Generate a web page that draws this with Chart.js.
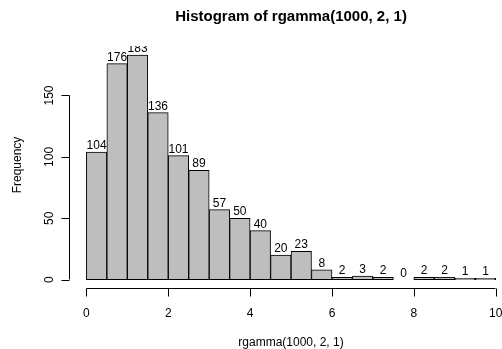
<!DOCTYPE html>
<html>
<head>
<meta charset="utf-8">
<script src="https://cdn.jsdelivr.net/npm/chart.js@4/dist/chart.umd.min.js"></script>
<style>
  html, body { margin: 0; padding: 0; background: #fff; overflow: hidden; }
  #wrap { width: 502px; height: 349px; }
</style>
</head>
<body>
<div id="wrap"><canvas id="hist" width="502" height="349"></canvas></div>
<script>
// histogram bins (width 0.5) and counts
const binStarts = [0, 0.5, 1, 1.5, 2, 2.5, 3, 3.5, 4, 4.5, 5, 5.5, 6, 6.5, 7, 7.5, 8, 8.5, 9, 9.5]
const counts = [104, 176, 183, 136, 101, 89, 57, 50, 40, 20, 23, 8, 2, 3, 2, 0, 2, 2, 1, 1]
const xTicks = [0, 2, 4, 6, 8, 10]
const yTicks = [0, 50, 100, 150]
const titleText = "Histogram of rgamma(1000, 2, 1)"
const xTitle = "rgamma(1000, 2, 1)"
const yTitle = "Frequency"

const FONT = "Liberation Sans, Arial, sans-serif"

const points = binStarts.map((b, i) => ({ x: b + 0.25, y: counts[i] }))

// draws R-style axes, titles and the count labels
const rStyle = {
    id: "rStyle",
    afterDatasetsDraw(chart) {
        const ctx = chart.ctx
        const xs = chart.scales.x
        const ys = chart.scales.y
        const area = chart.chartArea

        // count labels above bars, clipped to the plot region
        ctx.save()
        ctx.beginPath()
        ctx.rect(area.left, area.top, area.right - area.left, area.bottom - area.top)
        ctx.clip()
        ctx.fillStyle = "#000"
        ctx.font = "12px " + FONT
        ctx.textAlign = "center"
        ctx.textBaseline = "alphabetic"
        points.forEach(p => {
            ctx.fillText(String(p.y), xs.getPixelForValue(p.x), ys.getPixelForValue(p.y) - 3)
        })
        ctx.restore()

        ctx.save()
        ctx.strokeStyle = "#000"
        ctx.lineWidth = 1
        ctx.fillStyle = "#000"

        // x axis
        const axY = Math.round(area.bottom) - 0.5
        const x0 = Math.round(xs.getPixelForValue(xTicks[0])) + 0.5
        const x1 = Math.round(xs.getPixelForValue(xTicks[xTicks.length - 1])) - 0.5
        ctx.beginPath()
        ctx.moveTo(x0, axY)
        ctx.lineTo(x1, axY)
        xTicks.forEach(t => {
            const px = Math.round(xs.getPixelForValue(t)) + 0.5
            ctx.moveTo(px, axY)
            ctx.lineTo(px, axY + 8)
        })
        ctx.stroke()
        ctx.font = "12px " + FONT
        ctx.textAlign = "center"
        ctx.textBaseline = "alphabetic"
        xTicks.forEach(t => {
            ctx.fillText(String(t), xs.getPixelForValue(t), 317)
        })

        // y axis
        const axX = Math.round(area.left) - 0.5
        const y0 = Math.round(ys.getPixelForValue(yTicks[0])) - 0.5
        const y1 = Math.round(ys.getPixelForValue(yTicks[yTicks.length - 1])) + 0.5
        ctx.beginPath()
        ctx.moveTo(axX, y0)
        ctx.lineTo(axX, y1)
        yTicks.forEach(t => {
            const py = Math.round(ys.getPixelForValue(t)) + 0.5
            ctx.moveTo(axX, py)
            ctx.lineTo(axX - 8, py)
        })
        ctx.stroke()
        yTicks.forEach(t => {
            ctx.save()
            ctx.translate(53, ys.getPixelForValue(t))
            ctx.rotate(-Math.PI / 2)
            ctx.fillText(String(t), 0, 0)
            ctx.restore()
        })

        // titles
        const midX = (area.left + 512) / 2
        ctx.font = "bold 15px " + FONT
        ctx.fillText(titleText, midX, 21)
        ctx.font = "12px " + FONT
        ctx.fillText(xTitle, midX, 346)
        ctx.save()
        ctx.translate(21, 165)
        ctx.rotate(-Math.PI / 2)
        ctx.fillText(yTitle, 0, 0)
        ctx.restore()
        ctx.restore()
    }
}

const chart = new Chart(document.getElementById("hist"), {
    type: "bar",
    data: {
        datasets: [{
            label: "Frequency",
            data: points,
            backgroundColor: "#bebebe",
            borderColor: "#000",
            borderWidth: 1,
            borderSkipped: false,
            barPercentage: 1,
            categoryPercentage: 1,
            grouped: false
        }]
    },
    options: {
        responsive: false,
        animation: false,
        layout: { padding: { left: 70, top: 46, right: 0, bottom: 60 } },
        plugins: { legend: { display: false }, tooltip: { enabled: false }, title: { display: false } },
        scales: {
            x: { type: "linear", min: -0.4, max: 10.154, offset: false, display: false },
            y: { type: "linear", min: -7.6, max: 190.3, display: false }
        }
    },
    plugins: [rStyle]
})
</script>
</body>
</html>
